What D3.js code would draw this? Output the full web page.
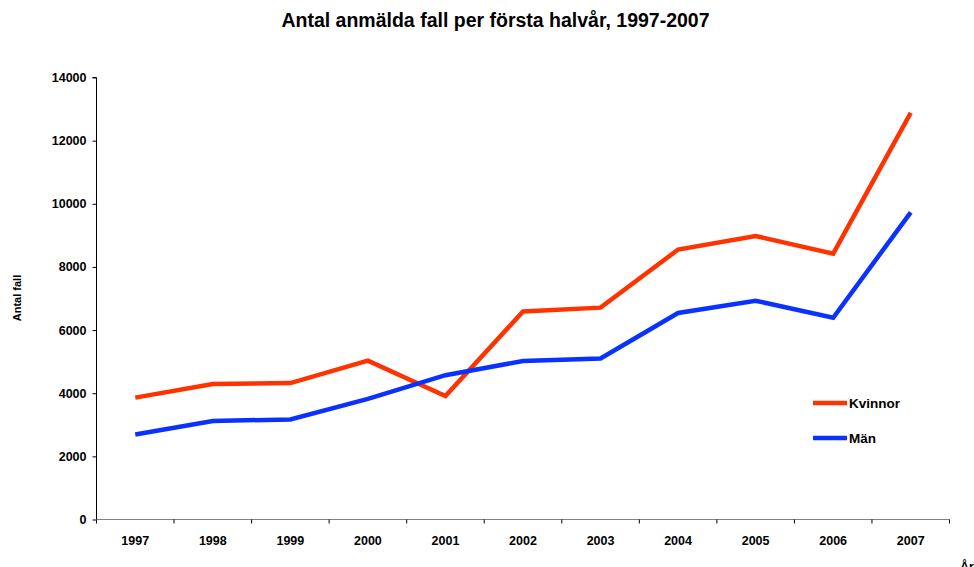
<!DOCTYPE html>
<html>
<head>
<meta charset="utf-8">
<script src="https://cdn.jsdelivr.net/npm/d3@7"></script>
<style>
  body { margin: 0; background: #fff; }
  text { font-family: "Liberation Sans", Arial, sans-serif; font-weight: bold; }
</style>
</head>
<body>
<div id="chart"></div>
<script>
// Anmälda fall per första halvår, kvinnor och män
const years = ["1997", "1998", "1999", "2000", "2001", "2002", "2003", "2004", "2005", "2006", "2007"];
const kvinnor = [3860, 4290, 4320, 5030, 3910, 6590, 6710, 8550, 8980, 8420, 12880];
const man = [2690, 3120, 3170, 3820, 4570, 5020, 5100, 6540, 6930, 6390, 9730];
const yTicks = [0, 2000, 4000, 6000, 8000, 10000, 12000, 14000];

const width = 974, height = 567;
const plot = { left: 96.5, right: 949.5, top: 77.5, bottom: 519.5 };

const svg = d3.select("#chart").append("svg")
  .attr("width", width)
  .attr("height", height);

const x = d3.scaleBand().domain(years).range([plot.left, plot.right]);
const y = d3.scaleLinear().domain([0, 14000]).range([plot.bottom, plot.top]);

// Title
svg.append("text")
  .attr("x", 495.5)
  .attr("y", 27)
  .attr("text-anchor", "middle")
  .style("font-size", "19.5px")
  .text("Antal anmälda fall per första halvår, 1997-2007");

// Y axis
const yAxis = svg.append("g")
  .attr("transform", `translate(${plot.left},0)`)
  .call(d3.axisLeft(y).tickValues(yTicks).tickSize(4).tickPadding(6).tickFormat(d3.format("d")));
yAxis.select(".domain").attr("stroke", "#000").attr("d", `M-4,${plot.top}H0V${plot.bottom}`);
yAxis.selectAll("text").style("font-size", "12.5px").style("font-weight", "bold").attr("font-family", null);

// X axis: ticks at band edges
const xAxis = svg.append("g")
  .attr("transform", `translate(0,${plot.bottom})`);
xAxis.append("line")
  .attr("x1", plot.left).attr("x2", plot.right)
  .attr("stroke", "#808080");
xAxis.selectAll(".edge")
  .data(years.concat(["end"]))
  .join("line")
  .attr("class", "edge")
  .attr("x1", (d, i) => plot.left + i * x.step())
  .attr("x2", (d, i) => plot.left + i * x.step())
  .attr("y1", 0).attr("y2", 4)
  .attr("stroke", "#000");
xAxis.selectAll(".lbl")
  .data(years)
  .join("text")
  .attr("class", "lbl")
  .attr("x", d => x(d) + x.bandwidth() / 2)
  .attr("y", 25)
  .attr("text-anchor", "middle")
  .style("font-size", "12.5px")
  .text(d => d);

// Axis titles
svg.append("text")
  .attr("transform", "translate(21,298) rotate(-90)")
  .attr("text-anchor", "middle")
  .style("font-size", "11px")
  .text("Antal fall");

svg.append("text")
  .attr("x", 960)
  .attr("y", 571)
  .style("font-size", "12.5px")
  .text("År");

// Lines
const series = [
  { name: "Kvinnor", values: kvinnor, color: "#ff3300" },
  { name: "Män", values: man, color: "#0a32ff" }
];

const line = d3.line()
  .x((d, i) => x(years[i]) + x.bandwidth() / 2)
  .y(d => y(d));

svg.selectAll(".series")
  .data(series)
  .join("path")
  .attr("class", "series")
  .attr("d", d => line(d.values))
  .attr("fill", "none")
  .attr("stroke", d => d.color)
  .attr("stroke-width", 4.5)
  .attr("stroke-linejoin", "miter");

// Legend
const legend = svg.append("g")
  .attr("transform", "translate(813,403)");
series.forEach((d, i) => {
  const row = legend.append("g").attr("transform", `translate(0,${i * 35})`);
  row.append("line")
    .attr("x1", 0).attr("x2", 34)
    .attr("stroke", d.color)
    .attr("stroke-width", 4.5);
  row.append("text")
    .attr("x", 36)
    .attr("y", 5)
    .style("font-size", "13.5px")
    .text(d.name);
});
</script>
</body>
</html>
